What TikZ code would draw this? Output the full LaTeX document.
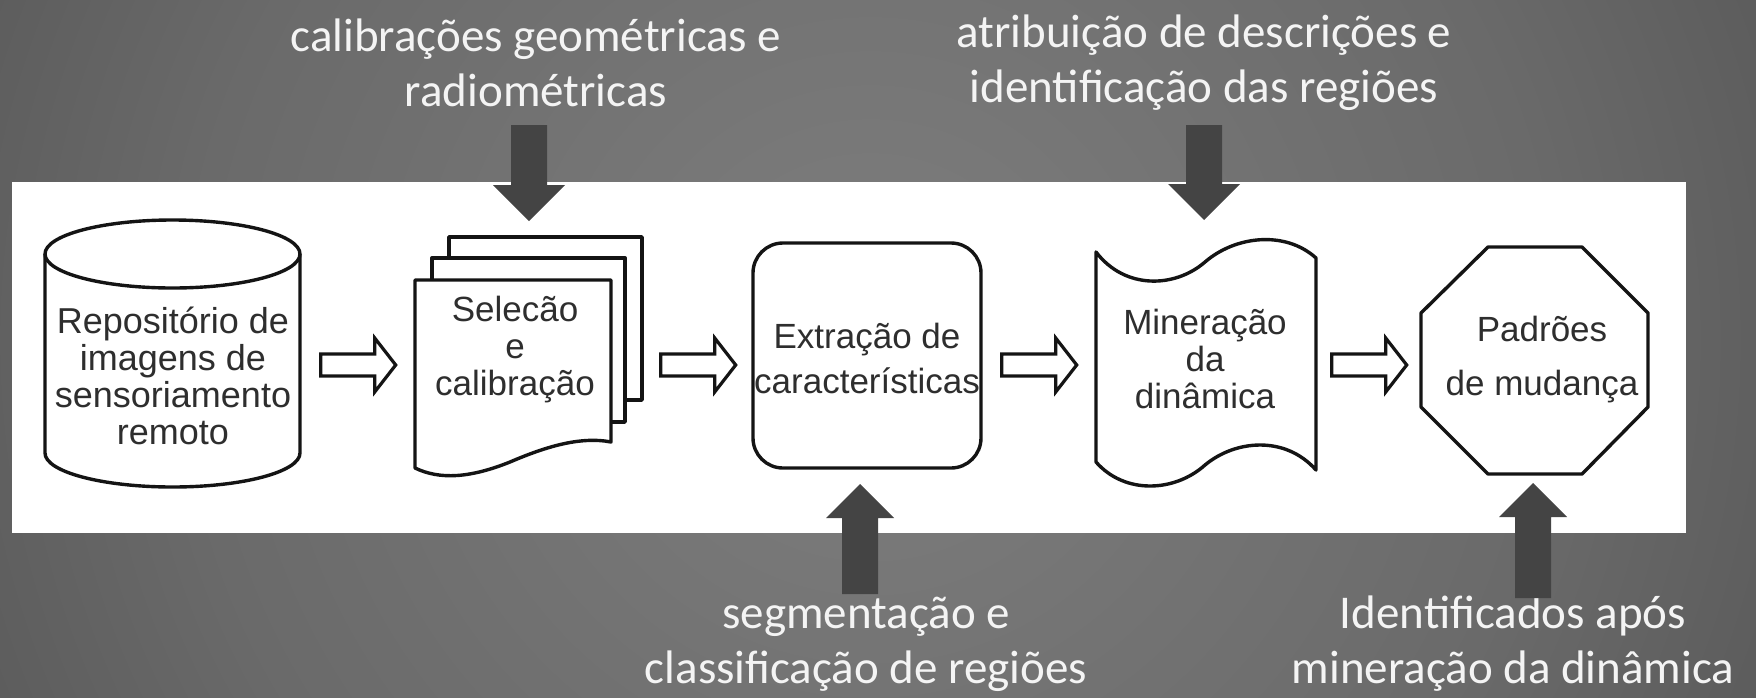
\documentclass[tikz,border=0pt]{standalone}
\usepackage{fontspec}
\setmainfont{Carlito}
\newfontfamily\shapefont{Liberation Sans}
\usetikzlibrary{calc}
\definecolor{arrowgray}{HTML}{444444}
\definecolor{labelwhite}{HTML}{F4F4F4}
\definecolor{shapetext}{HTML}{2E2E2E}
\definecolor{bgA}{HTML}{7E7E7E}
\definecolor{bgB}{HTML}{6A6A6A}
\definecolor{bgC}{HTML}{505050}
\definecolor{bgD}{HTML}{313131}
\definecolor{bgE}{HTML}{2A2A2A}
\pgfdeclareradialshading{bgshade}{\pgfpoint{0bp}{0bp}}{color(0bp)=(bgA); color(8.5bp)=(bgB); color(15bp)=(bgC); color(22bp)=(bgD); color(25bp)=(bgE); color(50bp)=(bgE)}
\newcommand\flowarrow[2]{%
  \path ($(#1.east|-axis)!0.5!(#2.west|-axis)$) coordinate (fa);
  \draw[hollowarrow] ($(fa)+(-37,-11)$) -- ($(fa)+(17,-11)$) -- ($(fa)+(17,-27)$) -- ($(fa)+(38,0)$) -- ($(fa)+(17,27)$) -- ($(fa)+(17,11)$) -- ($(fa)+(-37,11)$) -- cycle;}
\newcommand\darkdown[2]{%
  \fill[darkarrow] ($(#1)+(-18,0)$) -- ($(#2)+(-18,-36)$) -- ($(#2)+(-36,-36)$) -- (#2) -- ($(#2)+(36,-36)$) -- ($(#2)+(18,-36)$) -- ($(#1)+(18,0)$) -- cycle;}
\newcommand\darkup[2]{%
  \fill[darkarrow] ($(#1)+(-18,0)$) -- ($(#2)+(-18,34)$) -- ($(#2)+(-34,34)$) -- (#2) -- ($(#2)+(34,34)$) -- ($(#2)+(18,34)$) -- ($(#1)+(18,0)$) -- cycle;}
\begin{document}
\begin{tikzpicture}[x=1pt,y=-1pt,
  outline/.style={draw=black!92, line width=3.4pt, fill=white, line join=round},
  hollowarrow/.style={draw=black!92, line width=3.2pt, fill=white, line join=miter},
  darkarrow/.style={fill=arrowgray},
  inlabel/.style={font=\shapefont\fontsize{35}{37}\selectfont, text=shapetext, align=center, inner sep=0},
  outlabel/.style={font=\fontsize{47}{55}\selectfont, text=labelwhite, align=center, inner sep=0},
  shapebox/.style={inner sep=0, anchor=north west}]
\useasboundingbox (0,0) rectangle (1756,697);
\begin{scope}
  \clip (0,0) rectangle (1756,697);
  \fill[shading=bgshade] (870,340) circle (2000);
\end{scope}
% white band
\fill[white] (12,182) rectangle (1686,533);
\coordinate (axis) at (0,365);
% invisible boxes for the shapes
\node[shapebox, minimum width=255, minimum height=267] (repo) at (45,220) {};
\node[shapebox, minimum width=227, minimum height=235] (sel) at (415,237) {};
\node[shapebox, minimum width=228, minimum height=225] (feat) at (753,243) {};
\node[shapebox, minimum width=220, minimum height=251] (mine) at (1096,237) {};
\node[shapebox, minimum width=227, minimum height=227] (pat) at (1421,247) {};
% outer labels
\node[outlabel] (lab1) at (536,63) {calibrações geométricas e\\radiométricas};
\node[outlabel] (lab2) at (1204,63) {atribuição de descrições e\\identificação das regiões};
\node[outlabel] (lab3) at (866,644) {segmentação e\\classificação de regiões};
\node[outlabel] (lab4) at (1513,644) {Identificados após\\mineração da dinâmica};
% dark arrows
\coordinate (c1s) at (529,125); \coordinate (c1e) at (529,221);
\coordinate (c2s) at (1204,125); \coordinate (c2e) at (1204,220);
\coordinate (c3s) at (860,594); \coordinate (c3e) at (860,484);
\coordinate (c4s) at (1533,598); \coordinate (c4e) at (1533,483);
\darkdown{c1s}{c1e}
\darkdown{c2s}{c2e}
\darkup{c3s}{c3e}
\darkup{c4s}{c4e}
% cylinder
\fill[white] (45,254) -- (45,453) arc[start angle=180,end angle=0,x radius=127.5,y radius=34] -- (300,254) -- cycle;
\draw[outline, fill=none] (45,254) -- (45,453) arc[start angle=180,end angle=0,x radius=127.5,y radius=34] -- (300,254);
\draw[outline] (172.5,254) ellipse[x radius=127.5, y radius=34];
% multi document
\draw[outline] (449,237) rectangle (642,400);
\draw[outline] (432,258) rectangle (625,422);
\draw[outline] (415,280) -- (611,280) -- (611,442) .. controls (580,436) and (545,447) .. (510,462) .. controls (470,478) and (440,480) .. (415,468) -- cycle;
% rounded rectangle
\draw[outline, rounded corners=30] (753,243) rectangle (981,468);
% punched tape
\draw[outline] (1096,252) .. controls (1125,290) and (1175,288) .. (1205,262) .. controls (1235,236) and (1285,230) .. (1316,258) -- (1316,470) .. controls (1285,435) and (1235,440) .. (1205,465) .. controls (1175,492) and (1125,495) .. (1096,462) -- cycle;
% octagon
\draw[outline] (1488,247) -- (1582,247) -- (1648,313) -- (1648,407) -- (1582,474) -- (1488,474) -- (1421,407) -- (1421,313) -- cycle;
% texts in shapes
\node[inlabel, font=\shapefont\fontsize{36}{37}\selectfont] (repoT) at (173,376) {Repositório de\\imagens de\\sensoriamento\\remoto};
\node[inlabel] (selT) at (515,350) {Selecão\\e\\calibração};
\node[inlabel, font=\shapefont\fontsize{35}{45}\selectfont] (featT) at (867,358) {Extração de\\características};
\node[inlabel] (mineT) at (1205,359) {Mineração\\da\\dinâmica};
\node[inlabel, font=\shapefont\fontsize{35}{54}\selectfont] (patT) at (1542,360) {Padrões\\de mudança};
% hollow flow arrows
\flowarrow{repo}{sel}
\flowarrow{sel}{feat}
\flowarrow{feat}{mine}
\flowarrow{mine}{pat}
\end{tikzpicture}
\end{document}
